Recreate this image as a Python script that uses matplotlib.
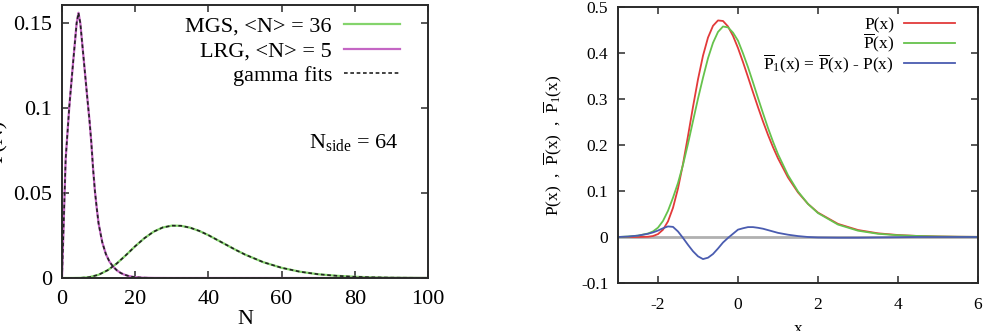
import matplotlib
matplotlib.use("Agg")
import matplotlib.pyplot as plt

plt.rcParams['font.family'] = ['Liberation Serif', 'DejaVu Serif']
plt.rcParams['mathtext.fontset'] = 'custom'
plt.rcParams['mathtext.rm'] = 'Liberation Serif'
plt.rcParams['mathtext.it'] = 'Liberation Serif:italic'
plt.rcParams['axes.unicode_minus'] = False

# ---------------- left panel data ----------------
mgs_N = [0, 2.5, 5, 7.5, 10, 12.5, 15, 17.5, 20, 22.5, 25, 27.5, 30, 32.5, 35,
         37.5, 40, 42.5, 45, 47.5, 50, 55, 60, 65, 70, 75, 80, 85, 90, 100]
mgs_P = [0.0, 0.0, 0.00007, 0.0005, 0.0019, 0.0046, 0.0086, 0.0135, 0.0187,
         0.0234, 0.0272, 0.0297, 0.0308, 0.0307, 0.0296, 0.0277, 0.0252, 0.0223,
         0.0194, 0.0165, 0.0138, 0.0093, 0.0060, 0.0037, 0.0022, 0.0013, 0.0007,
         0.0004, 0.0002, 0.00005]
lrg_N = [0, 1, 2, 3, 4, 4.5, 5, 6, 7, 7.5, 8, 8.5, 9, 9.5, 10, 11, 12, 13, 14,
         15, 16, 17, 18, 19, 20, 22, 25, 30, 100]
lrg_P = [0.0, 0.070, 0.101, 0.126, 0.150, 0.156, 0.150, 0.127, 0.104, 0.093,
         0.080, 0.064, 0.051, 0.041, 0.032, 0.021, 0.014, 0.0095, 0.0066,
         0.0045, 0.0030, 0.0020, 0.0013, 0.0008, 0.0005, 0.0002, 0.00005, 0.0, 0.0]
fit_mgs_P = mgs_P
fit_lrg_P = lrg_P

# ---------------- right panel data ----------------
xs = [-3, -2.75, -2.5, -2.25, -2.125, -2, -1.875, -1.75, -1.625, -1.5, -1.375,
      -1.25, -1.125, -1, -0.875, -0.75, -0.625, -0.5, -0.375, -0.25, -0.125, 0,
      0.125, 0.25, 0.375, 0.5, 0.625, 0.75, 0.875, 1.0, 1.25, 1.5, 1.75, 2.0,
      2.5, 3, 3.5, 4, 4.5, 5, 5.5, 6]
P_x = [0.0, 0.0, 0.00002, 0.00055, 0.0021, 0.0063, 0.0159, 0.0340, 0.0635,
       0.1055, 0.1589, 0.2197, 0.2830, 0.3428, 0.3942, 0.4336, 0.4591, 0.4708,
       0.4696, 0.4577, 0.4373, 0.4108, 0.3802, 0.3477, 0.3146, 0.2822, 0.2511,
       0.2220, 0.1953, 0.1710, 0.1294, 0.0969, 0.0719, 0.0530, 0.0285, 0.0152,
       0.0080, 0.0043, 0.0022, 0.0012, 0.0006, 0.0003]
Pbar_x = [0.0, 0.001, 0.003, 0.0076, 0.0121, 0.0203, 0.0349, 0.0570, 0.0855,
          0.1175, 0.1569, 0.2027, 0.2520, 0.3008, 0.3462, 0.3886, 0.4221,
          0.4458, 0.4576, 0.4557, 0.4443, 0.4268, 0.3992, 0.3692, 0.3361,
          0.3022, 0.2691, 0.2370, 0.2073, 0.1800, 0.1344, 0.0989, 0.0719,
          0.0520, 0.0270, 0.0137, 0.0070, 0.0038, 0.0022, 0.0012, 0.0006, 0.0003]
P1_x = [0.0, 0.001, 0.003, 0.007, 0.010, 0.014, 0.019, 0.023, 0.022, 0.012,
        -0.002, -0.017, -0.031, -0.042, -0.048, -0.045, -0.037, -0.025, -0.012,
        -0.002, 0.007, 0.016, 0.019, 0.0215, 0.0215, 0.020, 0.018, 0.015, 0.012,
        0.009, 0.005, 0.002, 0.0, -0.001, -0.0015, -0.0015, -0.001, -0.0005,
        0.0, 0.0, 0.0, 0.0]

W, H = 991, 331
fig = plt.figure(figsize=(W / 100, H / 100), dpi=100)

spine_c = '#2a2a2a'
FS_L = 16
FS_R = 12.5

def style(ax, fs):
    for s in ax.spines.values():
        s.set_linewidth(1.4)
        s.set_color(spine_c)
    ax.tick_params(direction='in', top=True, right=True, length=5, width=1.1,
                   color=spine_c, labelsize=fs, pad=7)

# left
ax1 = fig.add_axes([62 / W, 1 - 278 / H, 366 / W, 273 / H])
style(ax1, FS_L)
ax1.plot(mgs_N, mgs_P, color='#84d46c', lw=1.6, label='MGS, <N> = 36')
ax1.plot(lrg_N, lrg_P, color='#c466c4', lw=1.6, label='LRG, <N> = 5')
ax1.plot(mgs_N, fit_mgs_P, color='#222222', lw=1.2, ls=(0, (2.2, 1.6)),
         label='gamma fits')
ax1.plot(lrg_N, fit_lrg_P, color='#222222', lw=1.2, ls=(0, (2.2, 1.6)))
ax1.set_xlim(0, 100)
ax1.set_ylim(0, 0.1606)
ax1.set_xticks([0, 20, 40, 60, 80, 100])
ax1.set_yticks([0, 0.05, 0.1, 0.15])
ax1.set_yticklabels(['0', '0.05', '0.1', '0.15'])
ax1.tick_params(axis='x', pad=9)
ax1.set_xlabel('N', fontsize=FS_L, labelpad=0)
ax1.set_ylabel('P(N)', fontsize=FS_L, labelpad=4)
ax1.text(0.918, 0.495, r'N$_{\mathrm{side}}$ = 64', transform=ax1.transAxes,
         ha='right', va='center', fontsize=FS_L)
ax1.legend(loc='upper right', bbox_to_anchor=(0.935, 0.975), frameon=False,
           markerfirst=False, fontsize=FS_L, handlelength=2.5,
           handletextpad=0.55, labelspacing=0.18, borderpad=0.2,
           borderaxespad=0)

# right
ax2 = fig.add_axes([618 / W, 1 - 283 / H, 360 / W, 276 / H])
style(ax2, FS_R)
ax2.tick_params(axis='x', pad=10)
ax2.axhline(0, color='#b0b0b0', lw=2.0, zorder=1)
ax2.plot(xs, P_x, color='#e23a3a', lw=1.3, label='P(x)')
ax2.plot(xs, Pbar_x, color='#66c24c', lw=1.3, label=r'$\overline{\mathrm{P}}$(x)')
ax2.plot(xs, P1_x, color='#4a5cb0', lw=1.3,
         label=r'$\overline{\mathrm{P}}_1$(x) = $\overline{\mathrm{P}}$(x) - P(x)')
ax2.set_xlim(-3, 6)
ax2.set_ylim(-0.1, 0.5)
ax2.set_xticks([-2, 0, 2, 4, 6])
ax2.set_yticks([-0.1, 0, 0.1, 0.2, 0.3, 0.4, 0.5])
ax2.set_yticklabels(['-0.1', '0', '0.1', '0.2', '0.3', '0.4', '0.5'])
ax2.set_xlabel('x', fontsize=FS_R, labelpad=6)
ax2.set_ylabel(r'P(x)  ,  $\overline{\mathrm{P}}$(x)  ,  $\overline{\mathrm{P}}_1$(x)',
               fontsize=FS_R, labelpad=12)
ax2.legend(loc='upper right', bbox_to_anchor=(0.945, 0.975), frameon=False,
           markerfirst=False, fontsize=FS_R, handlelength=2.9,
           handletextpad=0.6, labelspacing=-0.1, borderpad=0.2,
           borderaxespad=0)

fig.savefig('out.png', dpi=100)
